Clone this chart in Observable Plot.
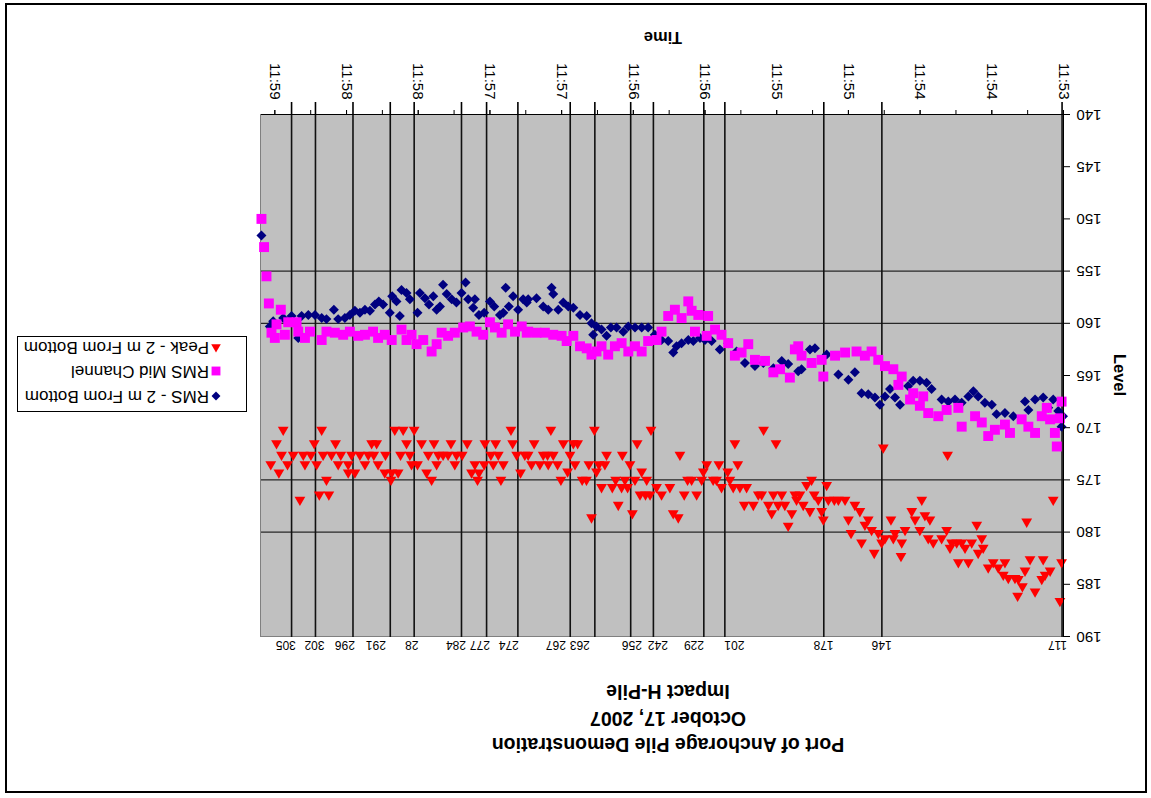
<!DOCTYPE html>
<html>
<head>
<meta charset="utf-8">
<script src="https://cdn.jsdelivr.net/npm/d3@7"></script>
<script src="https://cdn.jsdelivr.net/npm/@observablehq/plot@0.6"></script>
<style>
  html, body { margin: 0; padding: 0; background: #fff; overflow: hidden; }
  #page {
    position: relative; width: 1151px; height: 798px; background: #fff;
    transform: rotate(180deg); transform-origin: 50% 50%;
    font-family: "Liberation Sans", Arial, sans-serif; color: #000;
  }
  #page > svg { position: absolute; left: 0; top: 0; }
  .frame { position: absolute; left: 4px; top: 5px; width: 1142px; height: 790px;
    box-sizing: border-box; border: 2px solid #000; pointer-events: none; }
  .title { position: absolute; left: 0; width: 966px; text-align: center;
    font-weight: bold; font-size: 19.5px; line-height: 26px; white-space: nowrap; }
  .axis-title { position: absolute; width: 200px; text-align: center;
    font-weight: bold; font-size: 16.5px; line-height: 22px; }
  #legend { position: absolute; left: 904px; top: 386px; width: 230px; height: 76px;
    box-sizing: border-box; border: 1px solid #000; background: #fff; }
  #legend .row { position: absolute; left: 0; height: 20px; line-height: 20px;
    font-size: 17px; white-space: nowrap; }
  #legend svg { position: absolute; left: 22px; top: 2px; }
  #legend span { position: absolute; left: 37px; top: 0; }
</style>
</head>
<body>
<div id="page">
  <div class="title" style="top:40px">Port of Anchorage Pile Demonstration</div>
  <div class="title" style="top:66px">October 17, 2007</div>
  <div class="title" style="top:93px">Impact H-Pile</div>
  <div class="axis-title" style="left:388px; top:749px">Time</div>
  <div class="axis-title" style="left:-69px; top:412px; transform: rotate(-90deg)">Level</div>
  <div id="legend"></div>
  <div class="frame"></div>
</div>
<script>
// Elapsed seconds from the 11:53 tick; levels as read per strike.
const timeTicks = [0, 30, 60, 90, 120, 150, 180, 210, 240, 270, 300, 330];
const timeLabels = ["11:53", "11:54", "11:54", "11:55", "11:55", "11:56", "11:56", "11:57", "11:57", "11:58", "11:58", "11:59"];
const quarterTicks = [0, 15, 30, 45, 60, 75, 90, 105, 120, 135, 150, 165, 180, 195, 210, 225, 240, 255, 270, 285, 300, 315, 330];
const levelTicks = [140, 145, 150, 155, 160, 165, 170, 175, 180, 185, 190];
const gridLevels = [155, 160, 175, 180];

// Pile / strike markers along the record, and where their numbers sit
const strikeTimes = [0.6, 76.0, 100.3, 141.7, 150.5, 171.6, 181.1, 196.1, 206.4, 228.3, 241.4, 251.9, 271.7, 281.7, 297.3, 313.0, 323.0];
const strikeLabelTimes = [2.5, 76.1, 100.4, 137.7, 154.6, 169.7, 180.6, 202.4, 212.4, 232.1, 244.2, 254.2, 272.7, 287.7, 300.7, 313.4, 325.4];
const strikeLabels = ["117", "146", "178", "201", "229", "242", "256", "263", "267", "274", "277", "284", "28", "291", "296", "302", "305"];

const seriesNames = ["RMS - 2 m From Bottom", "RMS Mid Channel", "Peak - 2 m From Bottom"];
const seriesColors = ["#000080", "#ff00ff", "#ff0000"];

// [seconds, level]
const rmsBottom = [
  [0.2,168.9],[0.8,169.9],[2.2,168.4],[4.3,167.3],[6.4,168.1],[8.5,167.1],[11.9,167.3],[14.7,168.3],[16.1,167.5],[21.0,168.9],
  [24.5,168.6],[28.0,168.7],[30.0,167.8],[32.9,167.6],[35.7,167.0],[37.7,166.5],[39.8,167.0],[42.6,167.6],[45.4,167.3],[48.2,167.5],
  [51.0,167.3],[55.2,166.3],[57.3,165.7],[60.1,165.5],[62.9,165.5],[65.0,166.0],[68.4,167.8],[70.5,167.1],[72.6,166.3],[74.7,167.0],
  [76.8,167.8],[78.9,167.1],[81.7,166.8],[84.5,166.7],[87.3,164.7],[90.0,165.4],[94.2,164.9],[99.1,163.0],[104.0,162.4],[106.1,162.5],
  [109.6,164.4],[111.0,164.6],[115.2,163.9],[117.9,163.6],[121.4,164.3],[125.6,163.8],[129.1,164.1],[133.3,163.8],[136.8,162.7],[140.3,161.9],
  [143.8,162.5],[147.2,161.7],[150.0,161.6],[152.1,161.4],[154.9,161.7],[157.0,161.6],[159.8,161.9],[161.9,162.2],[163.3,162.8],[165.4,161.7],
  [168.2,161.6],[171.0,161.1],[173.8,160.4],[176.5,160.4],[179.3,160.4],[182.1,160.3],[184.2,160.8],[187.0,160.4],[189.4,160.4],[191.2,161.2],
  [193.3,160.6],[195.4,160.3],[196.8,161.1],[197.5,160.0],[199.5,159.3],[202.3,159.2],[205.1,158.5],[207.2,158.4],[209.3,158.0],[211.4,158.7],
  [213.5,157.2],[214.2,156.6],[215.6,158.7],[217.7,158.4],[220.5,157.6],[224.0,157.7],[224.6,158.0],[226.1,157.7],[228.2,158.7],[230.3,157.4],
  [232.1,158.4],[233.4,156.6],[234.4,159.0],[235.8,159.2],[238.2,158.4],[240.0,157.9],[242.4,159.0],[244.6,159.2],[246.3,157.7],[247.0,158.5],
  [249.1,157.7],[250.2,156.1],[251.9,157.1],[254.0,158.0],[256.0,157.7],[258.1,157.2],[259.6,156.3],[260.9,158.4],[262.3,158.7],[263.7,157.4],
  [265.5,158.2],[267.2,157.6],[269.3,157.1],[270.3,159.0],[273.5,157.7],[274.9,157.1],[277.0,156.8],[277.7,159.3],[279.1,157.9],[280.9,157.4],
  [281.9,159.0],[284.7,158.2],[286.5,157.9],[288.1,158.2],[290.2,158.8],[292.3,158.7],[294.4,159.0],[296.5,158.8],[298.6,159.2],[300.7,159.5],
  [303.5,159.6],[305.3,158.7],[308.4,159.6],[310.4,159.5],[313.2,159.2],[316.0,159.2],[318.8,159.3],[320.2,161.4],[323.0,159.3],[326.5,159.5],
  [330.7,159.8],[332.1,160.3],[335.6,151.6]
];

const rmsMid = [
  [0.8,167.5],[1.5,169.1],[2.8,171.8],[3.6,170.5],[5.6,169.2],[7.0,168.1],[9.1,168.9],[11.9,170.5],[14.7,169.9],[17.5,169.2],
  [22.4,170.5],[24.5,169.7],[28.7,170.2],[31.5,170.8],[34.2,169.5],[37.0,168.9],[42.6,169.9],[44.0,168.1],[48.9,168.3],[52.4,168.9],
  [56.6,168.6],[58.7,167.0],[60.1,167.9],[62.9,166.7],[64.2,167.3],[67.7,165.1],[69.1,165.9],[71.2,164.4],[74.7,164.1],[77.5,163.5],
  [80.3,162.7],[83.1,163.1],[86.6,162.7],[91.4,162.8],[95.6,163.1],[100.5,165.1],[101.2,163.5],[105.4,163.8],[109.6,163.1],[111.0,162.2],
  [112.4,162.5],[114.5,165.2],[118.6,164.4],[121.4,164.7],[124.9,163.6],[129.1,163.5],[131.9,162.0],[134.7,162.8],[137.5,163.1],[140.3,161.9],
  [143.1,161.1],[145.8,160.6],[148.7,159.3],[149.3,161.2],[152.8,159.2],[154.2,160.8],[155.6,158.8],[157.0,157.9],[159.8,159.5],[162.6,158.7],
  [165.4,159.3],[168.2,160.8],[170.3,161.6],[173.8,161.7],[176.5,162.7],[179.3,162.2],[182.1,162.7],[184.9,161.9],[187.7,162.2],[190.5,163.0],
  [193.3,162.2],[195.4,162.7],[197.5,163.0],[199.5,162.4],[202.3,162.2],[205.1,161.2],[207.9,161.7],[210.0,161.2],[213.5,161.1],[217.0,160.9],
  [220.5,160.9],[224.0,160.8],[224.6,160.9],[226.7,160.3],[229.5,160.8],[232.4,160.1],[235.1,160.9],[237.9,160.4],[240.0,159.9],[242.8,161.1],
  [245.6,160.8],[248.4,160.3],[251.2,160.4],[254.7,160.9],[257.5,161.2],[260.2,160.9],[262.3,162.0],[264.4,162.7],[267.9,161.6],[270.7,162.0],
  [272.8,161.1],[274.9,161.6],[277.0,160.6],[281.1,161.6],[284.0,161.1],[286.8,161.4],[288.9,160.8],[292.3,161.1],[295.1,161.2],[298.6,160.8],
  [301.4,161.1],[304.9,160.9],[308.4,160.8],[310.4,161.6],[315.3,160.8],[317.4,161.4],[320.2,160.8],[320.9,159.9],[324.4,159.9],[325.8,161.1],
  [327.5,158.7],[329.3,160.1],[330.0,161.4],[331.4,160.9],[332.5,158.1],[333.5,155.5],[334.5,152.7],[335.6,150.0]
];

const peakBottom = [
  [0.8,182.9],[1.5,186.6],[4.3,176.9],[5.6,183.7],[7.7,184.1],[8.5,182.6],[9.1,184.5],[11.9,185.7],[14.0,182.6],[15.4,179.0],
  [16.1,183.7],[17.2,185.2],[18.9,184.5],[19.2,186.1],[20.3,184.4],[23.1,184.4],[24.5,182.9],[25.2,184.1],[27.3,183.4],[29.4,182.9],
  [31.5,183.4],[33.6,181.5],[34.2,180.6],[35.7,182.0],[36.3,179.3],[38.4,181.0],[39.8,182.9],[41.2,181.5],[42.6,181.0],[44.0,182.9],
  [44.7,181.0],[46.8,181.0],[47.5,181.5],[48.5,172.6],[48.9,179.8],[51.0,180.6],[54.5,181.0],[55.9,178.8],[56.6,180.6],[58.0,178.4],
  [59.3,176.9],[60.1,179.8],[62.1,178.8],[63.5,178.0],[66.3,179.8],[67.7,181.0],[68.0,182.3],[70.5,180.1],[71.2,180.6],[72.2,178.8],
  [74.7,180.6],[75.4,171.9],[76.1,181.0],[77.5,180.1],[79.2,182.0],[80.3,179.8],[81.7,178.8],[83.1,179.3],[84.5,181.0],[85.2,178.0],
  [87.3,177.4],[88.9,180.1],[90.0,178.8],[91.4,176.9],[94.2,176.9],[95.9,176.9],[98.4,176.9],[99.1,175.5],[100.5,178.8],[101.2,178.0],
  [102.6,176.9],[104.3,176.4],[105.4,175.0],[106.1,178.0],[107.5,175.5],[108.9,177.4],[110.3,176.4],[111.7,176.9],
  [112.4,176.4],[113.7,178.2],[115.2,179.4],[116.6,177.4],[117.9,176.4],[119.4,177.4],[120.3,171.5],[121.4,176.4],[122.1,178.2],[123.5,177.4],
  [125.5,170.2],[126.3,176.4],[127.7,176.4],[129.8,177.4],[132.6,175.7],[133.6,177.4],[135.4,175.7],[136.3,173.5],[137.5,171.5],[138.2,175.7],
  [139.6,175.0],[140.5,174.2],[143.1,175.7],[144.2,173.5],[145.2,175.0],[146.6,175.0],[149.3,173.5],[150.7,174.2],[151.4,175.0],[153.5,176.4],
  [155.6,175.0],[157.3,175.0],[158.7,176.4],[160.5,172.6],[161.2,178.6],[163.3,178.2],[164.7,175.7],[168.2,176.4],[170.3,175.7],[172.6,170.2],
  [173.0,176.4],[174.4,175.0],[174.9,176.4],[176.5,174.2],[177.2,176.4],[178.4,171.5],[179.3,175.0],[180.4,178.2],[181.4,173.5],[182.4,175.7],
  [183.5,175.0],[184.6,172.6],[184.9,175.7],[186.3,177.4],[187.4,175.0],[188.8,175.7],[191.2,172.6],[191.9,173.5],[193.3,175.7],[194.4,173.5],
  [195.4,174.2],[196.3,170.2],[197.5,178.6],[198.6,173.5],[199.6,175.0],[201.4,175.0],[203.3,171.5],[204.4,173.5],[205.1,171.5],[206.5,172.6],
  [207.5,174.2],[209.3,171.5],[210.3,175.0],[211.7,173.5],[213.5,172.6],[214.5,170.2],[215.6,173.5],[215.9,172.6],[217.7,172.6],[219.1,173.5],
  [221.5,171.5],[222.6,173.5],[224.0,172.6],
  [225.4,172.6],[227.2,174.3],[228.8,172.6],[230.5,171.5],[231.2,170.2],[234.4,173.5],[235.4,175.0],[236.5,172.6],[237.6,171.5],[238.6,173.5],
  [239.6,172.6],[242.1,171.5],[242.4,173.5],[244.6,174.3],[245.2,175.0],[246.3,173.5],[247.7,174.3],[249.5,171.5],[251.6,172.6],[254.0,172.6],
  [254.7,173.5],[256.3,171.5],[257.5,172.6],[259.6,172.6],[261.6,172.6],[262.3,173.5],[263.4,171.5],[264.4,175.0],[265.8,172.6],[266.5,174.3],
  [268.6,171.5],[270.3,173.5],[271.7,170.2],[272.8,173.5],[273.5,172.6],[274.9,171.5],[276.3,170.2],[277.4,172.6],[278.4,174.3],[279.8,170.2],
  [281.1,174.3],[281.4,175.0],[283.7,172.6],[284.0,174.3],[286.8,173.5],[287.4,171.5],[288.6,172.6],[289.5,171.5],[290.9,172.6],[292.3,173.5],
  [294.4,172.6],[296.5,174.3],[297.9,172.6],[299.3,173.5],[299.3,174.3],[302.4,172.6],[303.5,173.5],[304.6,171.5],[306.3,172.6],[307.4,176.4],
  [308.4,175.0],[309.8,172.6],[310.4,170.2],[311.4,176.4],[312.5,173.5],[313.5,171.5],[314.9,172.6],[317.4,173.5],[318.1,172.6],[319.5,176.9],
  [322.3,172.6],[324.7,173.5],[326.5,170.2],[327.2,172.6],[328.3,174.3],[329.3,171.5],[331.7,173.5]
];

const toRows = arr => arr.map(([t, level]) => ({t, level}));
const fmtTime = d => timeLabels[timeTicks.indexOf(d)];
const strikeLabelRows = strikeLabels.map((label, i) => ({t: strikeLabelTimes[i], label}));
const symbols = ["diamond2", "square", "triangle"];
const radii = [4.5, 5.6, 4.0];

const chart = Plot.plot({
  width: 1151,
  height: 798,
  marginLeft: 87,
  marginRight: 261,
  marginTop: 161,
  marginBottom: 115,
  style: {background: "transparent", fontFamily: "'Liberation Sans', Arial, sans-serif", fontSize: "15px", color: "#000", overflow: "visible"},
  x: {domain: [0, 336]},
  y: {domain: [140, 190]},
  marks: [
    Plot.frame({fill: "#c0c0c0", stroke: "#808080"}),
    Plot.ruleY(gridLevels, {stroke: "#000", strokeWidth: 1}),
    Plot.ruleX(strikeTimes, {stroke: "#111", strokeWidth: 1.6}),
    Plot.dot(toRows(rmsBottom), {x: "t", y: "level", symbol: symbols[0], r: radii[0], fill: seriesColors[0]}),
    Plot.dot(toRows(rmsMid), {x: "t", y: "level", symbol: symbols[1], r: radii[1], fill: seriesColors[1]}),
    Plot.dot(toRows(peakBottom), {x: "t", y: "level", symbol: symbols[2], r: radii[2], fill: seriesColors[2]}),
    Plot.ruleX([0], {stroke: "#000", strokeWidth: 1}),
    Plot.ruleY([140], {stroke: "#000", strokeWidth: 1}),
    Plot.axisY(levelTicks, {anchor: "left", tickSize: 6, tickPadding: 7, label: null, fontSize: 15}),
    Plot.axisX(quarterTicks, {anchor: "bottom", tickSize: 5, tickFormat: () => "", label: null}),
    Plot.axisX(timeTicks, {anchor: "bottom", tickSize: 5, tickRotate: -90, tickPadding: 10, tickFormat: fmtTime, label: null, fontSize: 15}),
    Plot.axisX(strikeTimes, {anchor: "bottom", tickSize: 13, strokeWidth: 1.6, tickFormat: () => "", label: null}),
    Plot.text(strikeLabelRows, {x: "t", text: "label", frameAnchor: "top", dy: -13, fontSize: 12, fill: "#000"})
  ]
});
document.getElementById("page").prepend(chart);

// Legend rows, markers drawn with the same symbol shapes as the chart
const legend = document.getElementById("legend");
const symbolTypes = {diamond2: d3.symbolDiamond2, square: d3.symbolSquare, triangle: d3.symbolTriangle};
const rowTops = [5, 29.5, 54];
seriesNames.forEach((name, i) => {
  const row = document.createElement("div");
  row.className = "row";
  row.style.top = rowTops[i] + "px";
  const size = Math.PI * radii[i] * radii[i] * 0.8;
  const path = d3.symbol(symbolTypes[symbols[i]], size)();
  row.innerHTML = `<svg width="16" height="16" viewBox="-8 -8 16 16"><path d="${path}" fill="${seriesColors[i]}"></path></svg><span>${name}</span>`;
  legend.appendChild(row);
});
</script>
</body>
</html>
